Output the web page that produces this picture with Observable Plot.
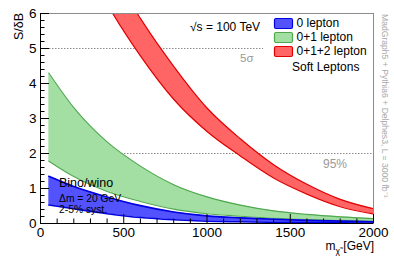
<!DOCTYPE html>
<html><head><meta charset="utf-8">
<script src="https://cdn.jsdelivr.net/npm/d3@7"></script>
<script src="https://cdn.jsdelivr.net/npm/@observablehq/plot@0.6"></script>
<style>
body{margin:0;background:#fff;font-family:"Liberation Sans",Arial,sans-serif;}
#wrap{width:394px;height:267px;}
</style></head><body><div id="wrap"></div>
<script>
// ---- data ----
const masses         = [50, 200, 400, 600, 800, 1000, 1200, 1400, 1600, 1800, 2000];
const zeroLeptonLow  = [0.53, 0.42, 0.28, 0.17, 0.105, 0.065, 0.048, 0.035, 0.026, 0.02, 0.015];
const zeroLeptonHigh = [1.35, 1.06, 0.76, 0.51, 0.33, 0.217, 0.162, 0.12, 0.09, 0.067, 0.05];
const oneLeptonLow   = [1.78, 1.34, 0.915, 0.63, 0.41, 0.28, 0.207, 0.152, 0.115, 0.09, 0.07];
const oneLeptonHigh  = [4.3, 3.31, 2.33, 1.64, 1.11, 0.76, 0.525, 0.36, 0.26, 0.19, 0.14];
const twoLeptonLow   = [10, 8.2, 6.28, 4.79, 3.55, 2.63, 1.93, 1.30, 0.84, 0.48, 0.27];
const twoLeptonHigh  = [11.3, 9.5, 7.45, 5.86, 4.49, 3.30, 2.42, 1.68, 1.12, 0.69, 0.42];
const seriesNames    = ["0 lepton", "0+1 lepton", "0+1+2 lepton"];
const refLevels      = [5, 2];
const refEnds        = [1340, 2000];
const refLabels      = ["5σ", "95%"];
const yTicks         = [0, 1, 2, 3, 4, 5, 6];
const xTicks         = [0, 500, 1000, 1500, 2000];
const yMinorTicks    = d3.range(0, 31).map(i => i / 5).filter(v => !yTicks.includes(v));
const xMinorTicks    = d3.range(0, 21).map(i => i * 100).filter(v => !xTicks.includes(v));

// ---- layout / styles ----
const W = 394, H = 267, ML = 40, MR = 21, MT = 13, MB = 44;
const FW = W - ML - MR, FH = H - MT - MB;
const xDom = [0, 2000], yDom = [0, 6];
// inward tick lengths: pixels converted to data units
const pxX = px => px * (xDom[1] - xDom[0]) / FW;
const pxY = px => px * (yDom[1] - yDom[0]) / FH;
const styles = [
  {fill: "#5252ff", stroke: "#0000e0", sw: 1.6},
  {fill: "#a3dea3", stroke: "#4fa84f", sw: 1.1},
  {fill: "#ff6565", stroke: "#e00000", sw: 1.2}
];
const bands = [
  [zeroLeptonLow, zeroLeptonHigh],
  [oneLeptonLow, oneLeptonHigh],
  [twoLeptonLow, twoLeptonHigh]
].map(([lo, hi], k) => masses.map((m, i) => ({m, lo: lo[i], hi: hi[i], s: seriesNames[k]})));
const refs = refLevels.map((y, i) => ({y, x1: 0, x2: refEnds[i]}));

const bandMarks = [];
[1, 0, 2].forEach(k => {
  const st = styles[k];
  bandMarks.push(Plot.areaY(bands[k], {x: "m", y1: "lo", y2: "hi", fill: st.fill, curve: "monotone-x", clip: true}));
  bandMarks.push(Plot.lineY(bands[k], {x: "m", y: "lo", stroke: st.stroke, strokeWidth: st.sw, curve: "monotone-x", clip: true}));
  bandMarks.push(Plot.lineY(bands[k], {x: "m", y: "hi", stroke: st.stroke, strokeWidth: st.sw, curve: "monotone-x", clip: true}));
});

const chart = Plot.plot({
  width: W, height: H,
  marginLeft: ML, marginRight: MR, marginTop: MT, marginBottom: MB,
  x: {domain: xDom},
  y: {domain: yDom},
  style: {fontFamily: "'Liberation Sans', Arial, sans-serif", fontSize: "13.5px", color: "black", background: "white", overflow: "visible"},
  marks: [
    Plot.ruleY(refs, {y: "y", x1: "x1", x2: "x2", stroke: "#8c8c8c", strokeDasharray: "1.5,1.5"}),
    ...bandMarks,
    Plot.frame({stroke: "#8c8c8c"}),
    Plot.axisY(yTicks, {tickSize: 0, tickPadding: 4, label: null, tickFormat: d => String(d)}),
    Plot.axisX(xTicks, {tickSize: 0, tickPadding: 4, label: null, tickFormat: d => String(d)}),
    Plot.ruleX([xDom[0]], {stroke: "black"}),
    Plot.ruleY([yDom[0]], {stroke: "black"}),
    Plot.ruleY(yTicks, {y: d => d, x1: () => xDom[0], x2: () => xDom[0] + pxX(9), stroke: "black"}),
    Plot.ruleY(yMinorTicks, {y: d => d, x1: () => xDom[0], x2: () => xDom[0] + pxX(4.5), stroke: "black"}),
    Plot.ruleX(xTicks, {x: d => d, y1: () => yDom[0], y2: () => yDom[0] + pxY(9), stroke: "black"}),
    Plot.ruleX(xMinorTicks, {x: d => d, y1: () => yDom[0], y2: () => yDom[0] + pxY(4.5), stroke: "black"})
  ]
});
document.getElementById("wrap").appendChild(chart);

// ---- annotations / legend (inside the same SVG) ----
const ann = d3.select(chart).append("g")
  .attr("font-family", "'Liberation Sans', Arial, sans-serif")
  .attr("fill", "black").attr("text-anchor", "start");

ann.append("text").attr("transform", "translate(23,13) rotate(-90)").attr("text-anchor", "end")
  .attr("font-size", 12.5).text("S/δB");
const xt = ann.append("text").attr("x", 374).attr("y", 250).attr("text-anchor", "end").attr("font-size", 12);
xt.append("tspan").text("m");
xt.append("tspan").attr("dy", 4).attr("font-size", 8.5).text("χ̃");
xt.append("tspan").attr("dy", -4).text(" [GeV]");

ann.append("text").attr("x", 190).attr("y", 31).attr("font-size", 12).text("√s = 100 TeV");

const legY = [18.5, 32.5, 46.5];
seriesNames.forEach((n, i) => {
  ann.append("rect").attr("x", 274.5).attr("y", legY[i]).attr("width", 18).attr("height", 10)
    .attr("rx", 1.5).attr("fill", styles[i].fill).attr("stroke", styles[i].stroke).attr("stroke-width", 1.2);
  ann.append("text").attr("x", 296.5).attr("y", legY[i] + 8.5).attr("font-size", 12).text(n);
});
ann.append("text").attr("x", 292).attr("y", 71).attr("font-size", 12).text("Soft Leptons");

ann.append("text").attr("x", 240).attr("y", 61.5).attr("font-size", 11.5).attr("fill", "#999").text(refLabels[0]);
ann.append("text").attr("x", 323).attr("y", 167.5).attr("font-size", 12).attr("fill", "#999").text(refLabels[1]);

ann.append("text").attr("x", 59).attr("y", 186.5).attr("font-size", 12.5).text("Bino/wino");
ann.append("text").attr("x", 59).attr("y", 201.5).attr("font-size", 10.3).text("Δm = 20 GeV");
ann.append("text").attr("x", 59).attr("y", 213).attr("font-size", 10.3).text("2-5% syst.");

ann.append("text").attr("transform", "translate(382,14) rotate(90)").attr("font-size", 8.6).attr("fill", "#aaa")
  .text("MadGraph5 + Pythia6 + Delphes3, L = 3000 fb⁻¹");
</script></body></html>
